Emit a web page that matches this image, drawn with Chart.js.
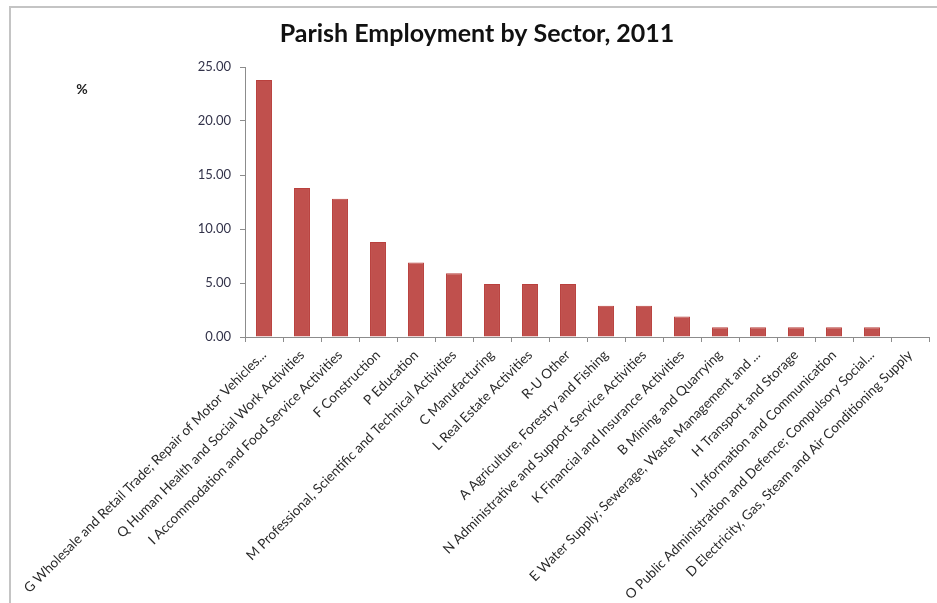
<!DOCTYPE html>
<html>
<head>
<meta charset="utf-8">
<script src="https://cdn.jsdelivr.net/npm/chart.js@4"></script>
<style>
  body { margin: 0; background: #fff; overflow: hidden; }
  #frame { position: absolute; left: 9px; top: 6px; width: 1200px; height: 900px; border: 1px solid #c4c4c4; border-width: 2px 0 0 2px; }
  #wrap { position: absolute; left: 0; top: 0; width: 937px; height: 603px; }
</style>
</head>
<body>
<div id="frame"></div>
<div id="wrap"><canvas id="myChart"></canvas></div>
<script>
// sectors, sorted as in the chart
const sectors = [
    "G Wholesale and Retail Trade; Repair of Motor Vehicles...",
    "Q Human Health and Social Work Activities",
    "I Accommodation and Food Service Activities",
    "F Construction",
    "P Education",
    "M Professional, Scientific and Technical Activities",
    "C Manufacturing",
    "L Real Estate Activities",
    "R-U Other",
    "A Agriculture, Forestry and Fishing",
    "N Administrative and Support Service Activities",
    "K Financial and Insurance Activities",
    "B Mining and Quarrying",
    "E Water Supply; Sewerage, Waste Management and ...",
    "H Transport and Storage",
    "J Information and Communication",
    "O Public Administration and Defence; Compulsory Social...",
    "D Electricity, Gas, Steam and Air Conditioning Supply"
];
const percents = [23.8, 13.8, 12.8, 8.8, 6.9, 5.9, 4.9, 4.9, 4.9, 2.9, 2.9, 1.9, 0.9, 0.9, 0.9, 0.9, 0.9, 0];
const yTicks = [0, 5, 10, 15, 20, 25];

const chartTitle = "Parish Employment by Sector, 2011";
const unitLabel = "%";

// title and the % label are drawn by hand, excel puts them in odd places
const extraText = {
    id: 'extraText',
    afterDraw(chart) {
        const ctx = chart.ctx;
        ctx.save();
        ctx.fillStyle = '#111';
        ctx.textAlign = 'center';
        ctx.textBaseline = 'middle';
        ctx.font = 'bold 25px Lato';
        ctx.fillText(chartTitle, 477, 34);
        ctx.font = 'bold 14px Lato';
        ctx.fillStyle = '#222';
        ctx.fillText(unitLabel, 82, 89);
        ctx.restore();
    }
};

const data = {
    labels: sectors,
    datasets: [{
        data: percents,
        backgroundColor: '#c0504d',
        borderColor: '#b9403d',
        borderWidth: 1,
        barPercentage: 0.42,
        categoryPercentage: 1
    }]
};

const config = {
    type: 'bar',
    data: data,
    plugins: [extraText],
    options: {
        responsive: true,
        maintainAspectRatio: false,
        animation: false,
        layout: { padding: { left: 0, right: 8, top: 67, bottom: 0 } },
        plugins: {
            legend: { display: false },
            title: { display: false },
            tooltip: { enabled: false }
        },
        scales: {
            x: {
                grid: { drawOnChartArea: false, tickLength: 5, color: '#8c8c8c', offset: true },
                border: { color: '#8c8c8c' },
                ticks: {
                    autoSkip: false,
                    minRotation: 45,
                    maxRotation: 45,
                    padding: 5,
                    color: '#2a2a2a',
                    font: { family: 'Lato', size: 13.5 }
                },
                afterFit(scale) { scale.height = 266; }
            },
            y: {
                min: 0,
                max: 25,
                afterBuildTicks(scale) { scale.ticks = yTicks.map(v => ({ value: v })); },
                grid: { drawOnChartArea: false, tickLength: 5, color: '#8c8c8c' },
                border: { color: '#8c8c8c' },
                ticks: {
                    padding: 9,
                    color: '#33334a',
                    font: { family: 'Lato', size: 13 },
                    callback: (v) => v.toFixed(2)
                },
                afterFit(scale) { scale.width = 245; }
            }
        }
    }
};

new Chart(document.getElementById('myChart'), config);
</script>
</body>
</html>
